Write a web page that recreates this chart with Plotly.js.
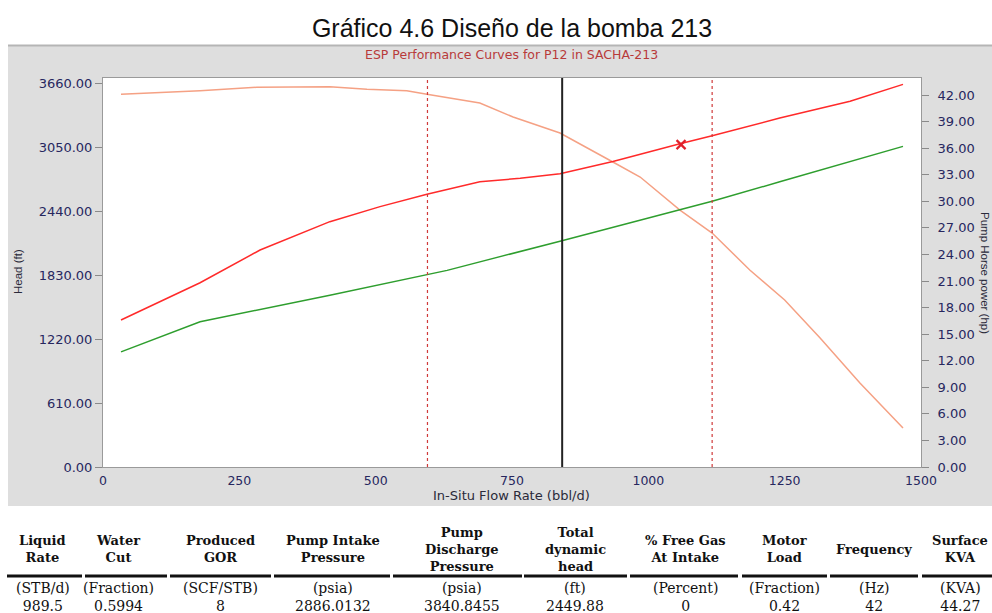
<!DOCTYPE html>
<html>
<head>
<meta charset="utf-8">
<script src="https://cdn.plot.ly/plotly-3.0.1.min.js"></script>
<style>
  html, body { margin: 0; padding: 0; background: #ffffff; }
  #chart { width: 992px; height: 613px; }
</style>
</head>
<body>
<div id="chart"></div>
<script>
// ---- Curve data (in-situ flow rate in bbl/d) ----
const headRate = [33, 178, 282, 416, 484, 557, 594, 691, 752, 838, 935, 985, 1058, 1117, 1186, 1250, 1315, 1388, 1467];
const headFt   = [3552, 3586, 3619, 3625, 3600, 3586, 3552, 3469, 3336, 3183, 2907, 2764, 2449, 2230, 1878, 1592, 1229, 801, 372];

const hpRedRate = [33, 178, 288, 416, 508, 594, 691, 765, 838, 935, 1058, 1117, 1241, 1370, 1467];
const hpRed     = [16.6, 20.8, 24.5, 27.7, 29.4, 30.8, 32.2, 32.6, 33.1, 34.5, 36.5, 37.4, 39.4, 41.3, 43.2];

const hpGreenRate = [33, 178, 416, 631, 838, 1058, 1117, 1241, 1467];
const hpGreen     = [13.0, 16.4, 19.4, 22.2, 25.5, 29.0, 30.0, 32.2, 36.2];

const markRate = [1060];
const markHp   = [36.4];

const minRecRate   = 595;   // lower recommended range limit
const maxRecRate   = 1117;  // upper recommended range limit
const operRate     = 842;   // operating in-situ rate

const xTicks    = [0, 250, 500, 750, 1000, 1250, 1500];
const headTicks = [0, 610, 1220, 1830, 2440, 3050, 3660];
const hpTicks   = [0, 3, 6, 9, 12, 15, 18, 21, 24, 27, 30, 33, 36, 39, 42];

// ---- Summary table ----
const tableHeaders = [
  ["Liquid", "Rate"],
  ["Water", "Cut"],
  ["Produced", "GOR"],
  ["Pump Intake", "Pressure"],
  ["Pump", "Discharge", "Pressure"],
  ["Total", "dynamic", "head"],
  ["% Free Gas", "At Intake"],
  ["Motor", "Load"],
  ["Frequency"],
  ["Surface", "KVA"]
];
const tableUnits  = ["(STB/d)", "(Fraction)", "(SCF/STB)", "(psia)", "(psia)", "(ft)", "(Percent)", "(Fraction)", "(Hz)", "(KVA)"];
const tableValues = ["989.5", "0.5994", "8", "2886.0132", "3840.8455", "2449.88", "0", "0.42", "42", "44.27"];

// ---- Page geometry (pixels) ----
const FIG_W = 992, FIG_H = 613;
const PL = 103, PR = 921, PT = 78, PB = 467;
const px = x => (x - PL) / (PR - PL);
const py = y => (PB - y) / (PB - PT);

// table column centres and rule extents
const colCenter = [43, 118, 220, 333, 462, 575, 685, 784, 874, 960];
const colRule   = [[7, 82], [85, 167], [170, 271], [274, 390], [393, 522], [524, 627], [630, 738], [742, 827], [830, 918], [922, 995]];

const tickFont  = { family: "DejaVu Sans", size: 13, color: "#27275e" };
const xTickFont = { family: "DejaVu Sans", size: 12.5, color: "#27275e" };

const traces = [
  {
    x: headRate, y: headFt, type: "scatter", mode: "lines", yaxis: "y",
    line: { color: "#f5a184", width: 1.5 }, hoverinfo: "skip", showlegend: false
  },
  {
    x: hpRedRate, y: hpRed, type: "scatter", mode: "lines", yaxis: "y2",
    line: { color: "#ff2a2a", width: 1.5 }, hoverinfo: "skip", showlegend: false
  },
  {
    x: hpGreenRate, y: hpGreen, type: "scatter", mode: "lines", yaxis: "y2",
    line: { color: "#2e9e2e", width: 1.5 }, hoverinfo: "skip", showlegend: false
  },
  {
    x: markRate, y: markHp, type: "scatter", mode: "markers", yaxis: "y2",
    marker: { symbol: "x-thin", size: 9, color: "#e0202a", line: { width: 2.2, color: "#e0202a" } },
    hoverinfo: "skip", showlegend: false
  }
];

const shapes = [
  // grey chart panel
  { type: "rect", xref: "paper", yref: "paper", layer: "below",
    x0: px(8), x1: px(1000), y0: py(506), y1: py(45),
    fillcolor: "#dedede", line: { width: 0 } },
  { type: "line", xref: "paper", yref: "paper", layer: "below",
    x0: px(8), x1: px(1000), y0: py(45.5), y1: py(45.5),
    line: { color: "#b5b5b5", width: 2 } },
  // white plotting area
  { type: "rect", xref: "paper", yref: "paper", layer: "below",
    x0: 0, x1: 1, y0: 0, y1: 1, fillcolor: "#ffffff", line: { width: 0 } },
  // recommended range limits and operating rate
  { type: "line", xref: "x", yref: "paper", x0: minRecRate, x1: minRecRate, y0: 0, y1: 1,
    line: { color: "#d03a3a", width: 1.2, dash: "dot" } },
  { type: "line", xref: "x", yref: "paper", x0: maxRecRate, x1: maxRecRate, y0: 0, y1: 1,
    line: { color: "#d03a3a", width: 1.2, dash: "dot" } },
  { type: "line", xref: "x", yref: "paper", x0: operRate, x1: operRate, y0: 0, y1: 1,
    line: { color: "#222222", width: 2 } }
];

const annotations = [
  { text: "ESP Performance Curves for P12 in SACHA-213", xref: "paper", yref: "paper",
    x: px(511), y: py(55), xanchor: "center", yanchor: "middle", showarrow: false,
    font: { family: "DejaVu Sans", size: 12.5, color: "#b83a3a" } },
  { text: "In-Situ Flow Rate (bbl/d)", xref: "paper", yref: "paper",
    x: px(511), y: py(495), xanchor: "center", yanchor: "middle", showarrow: false,
    font: { family: "DejaVu Sans", size: 13, color: "#2a2a3a" } },
  { text: "Head (ft)", xref: "paper", yref: "paper", textangle: -90,
    x: px(18), y: py(272), xanchor: "center", yanchor: "middle", showarrow: false,
    font: { family: "Liberation Sans", size: 11.5, color: "#2a2a3a" } },
  { text: "Pump Horse power (hp)", xref: "paper", yref: "paper", textangle: 90,
    x: px(985), y: py(273), xanchor: "center", yanchor: "middle", showarrow: false,
    font: { family: "Liberation Sans", size: 11.5, color: "#2a2a3a" } }
];

// table headers, rules, units and values
tableHeaders.forEach((lines, i) => {
  annotations.push({ text: lines.join("<br>"), xref: "paper", yref: "paper",
    x: px(colCenter[i]), y: py(549), xanchor: "center", yanchor: "middle", showarrow: false,
    font: { family: "DejaVu Serif", size: 13, color: "#111111", weight: "bold" } });
  shapes.push({ type: "line", xref: "paper", yref: "paper",
    x0: px(colRule[i][0]), x1: px(colRule[i][1]), y0: py(576), y1: py(576),
    line: { color: "#111111", width: 3 } });
  annotations.push({ text: tableUnits[i] + "<br>" + tableValues[i], xref: "paper", yref: "paper",
    x: px(colCenter[i]), y: py(597), xanchor: "center", yanchor: "middle", showarrow: false,
    font: { family: "DejaVu Serif", size: 14, color: "#111111" } });
});

const layout = {
  width: FIG_W, height: FIG_H,
  margin: { l: PL, r: FIG_W - PR, t: PT, b: FIG_H - PB, pad: 0 },
  paper_bgcolor: "#ffffff",
  plot_bgcolor: "#ffffff",
  title: {
    text: "Gráfico 4.6 Diseño de la bomba 213",
    x: 512 / FIG_W, y: 1 - 28 / FIG_H, xanchor: "center", yanchor: "middle",
    font: { family: "Liberation Sans", size: 25, color: "#111111" }
  },
  xaxis: {
    range: [0, 1500], tickvals: xTicks, ticktext: xTicks.map(String),
    showgrid: false, zeroline: false,
    showline: true, mirror: true, linecolor: "#9a9a9a", linewidth: 1,
    ticks: "outside", ticklen: 2, tickcolor: "rgba(0,0,0,0)",
    tickfont: xTickFont
  },
  yaxis: {
    range: [0, 3707.7], tickvals: headTicks, ticktext: headTicks.map(v => v.toFixed(2)),
    showgrid: false, zeroline: false,
    showline: true, mirror: true, linecolor: "#9a9a9a", linewidth: 1,
    ticks: "outside", ticklen: 7, tickcolor: "#8a8a8a",
    tickfont: tickFont
  },
  yaxis2: {
    overlaying: "y", side: "right",
    range: [0, 43.92], tickvals: hpTicks, ticktext: hpTicks.map(v => v.toFixed(2)),
    showgrid: false, zeroline: false, showline: false,
    ticks: "outside", ticklen: 7, tickcolor: "#8a8a8a",
    ticklabelstandoff: 6,
    tickfont: tickFont
  },
  shapes: shapes,
  annotations: annotations,
  showlegend: false
};

Plotly.newPlot("chart", traces, layout, { staticPlot: true, displayModeBar: false });
</script>
</body>
</html>
